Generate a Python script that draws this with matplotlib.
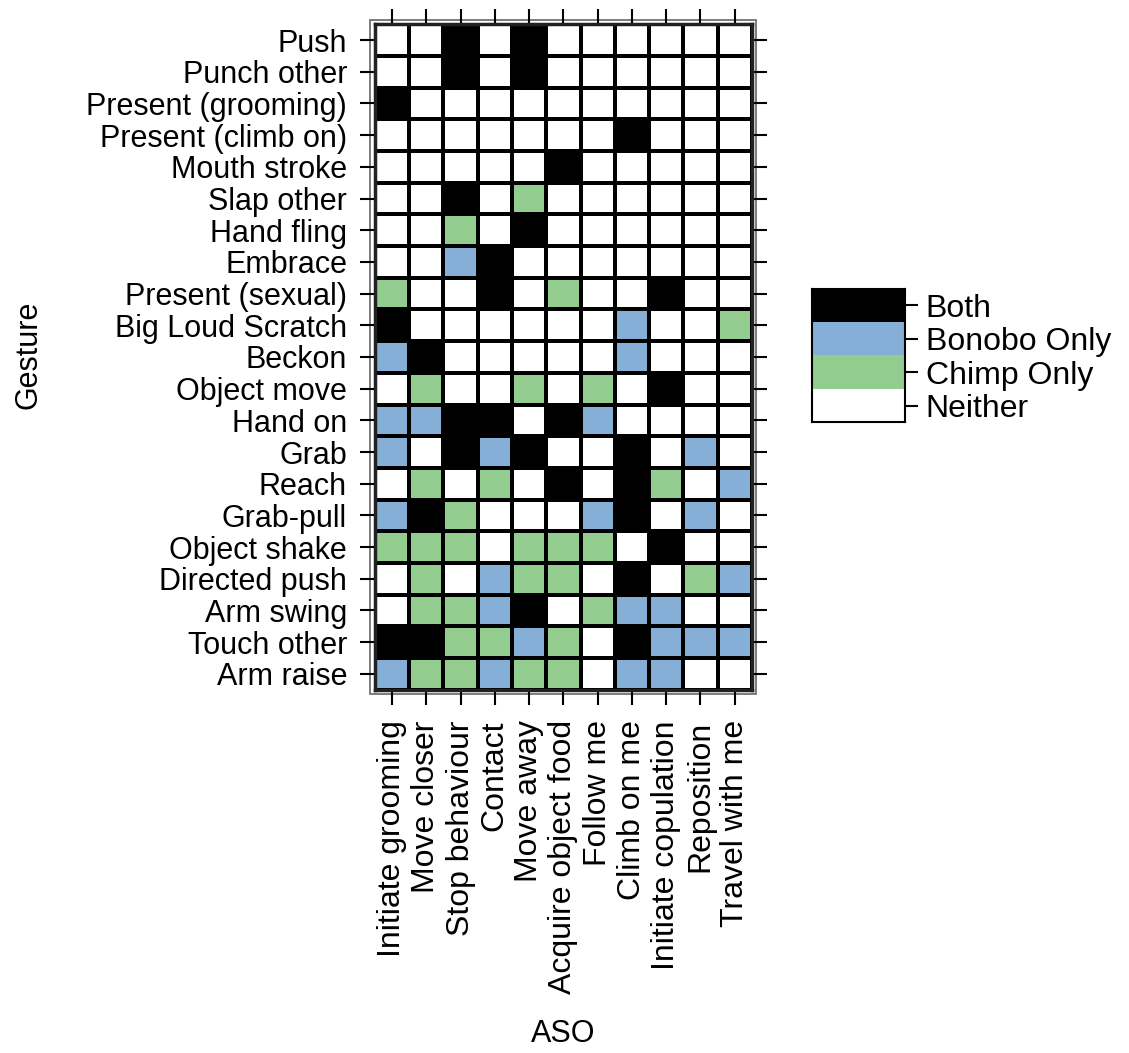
import numpy as np
import matplotlib
import matplotlib.pyplot as plt
from matplotlib.colors import ListedColormap, BoundaryNorm
from matplotlib.patches import Rectangle

plt.rcParams['font.family'] = ['Liberation Sans', 'DejaVu Sans']

aso = ['Initiate grooming', 'Move closer', 'Stop behaviour', 'Contact', 'Move away',
       'Acquire object food', 'Follow me', 'Climb on me', 'Initiate copulation',
       'Reposition', 'Travel with me']

gestures = ['Push', 'Punch other', 'Present (grooming)', 'Present (climb on)',
            'Mouth stroke', 'Slap other', 'Hand fling', 'Embrace', 'Present (sexual)',
            'Big Loud Scratch', 'Beckon', 'Object move', 'Hand on', 'Grab', 'Reach',
            'Grab-pull', 'Object shake', 'Directed push', 'Arm swing', 'Touch other',
            'Arm raise']

# B = Both, O = Bonobo Only, C = Chimp Only, N = Neither
usage = [
    'NNBNBNNNNNN',
    'NNBNBNNNNNN',
    'BNNNNNNNNNN',
    'NNNNNNNBNNN',
    'NNNNNBNNNNN',
    'NNBNCNNNNNN',
    'NNCNBNNNNNN',
    'NNOBNNNNNNN',
    'CNNBNCNNBNN',
    'BNNNNNNONNC',
    'OBNNNNNONNN',
    'NCNNCNCNBNN',
    'OOBBNBONNNN',
    'ONBOBNNBNON',
    'NCNCNBNBCNO',
    'OBCNNNOBNON',
    'CCCNCCCNBNN',
    'NCNOCCNBNCO',
    'NCCOBNCOONN',
    'BBCCOCNBOOO',
    'OCCOCCNOONN',
]

levels = ['Neither', 'Chimp Only', 'Bonobo Only', 'Both']
codes = {'N': 0, 'C': 1, 'O': 2, 'B': 3}
colors = ['#FFFFFF', '#92CD8F', '#85AFD6', '#000000']

mat = np.array([[codes[c] for c in row] for row in usage])
cmap = ListedColormap(colors)
norm = BoundaryNorm(np.arange(-0.5, 4.5, 1), cmap.N)

fig = plt.figure(figsize=(11.29, 10.53), dpi=100)
ax = fig.add_axes([0.332, 0.345, 0.334, 0.632])

n_rows, n_cols = mat.shape
ax.pcolormesh(np.arange(n_cols + 1), np.arange(n_rows + 1), mat[::-1],
              cmap=cmap, norm=norm, edgecolors='black', linewidth=2.6)
ax.set_xlim(0, n_cols)
ax.set_ylim(0, n_rows)

ax.set_xticks(np.arange(n_cols) + 0.5)
ax.set_xticklabels(aso, rotation=90, fontsize=23)
ax.set_yticks(np.arange(n_rows) + 0.5)
ax.set_yticklabels(gestures[::-1], fontsize=22)
ax.tick_params(axis='both', which='both', direction='out', length=11, width=1.5,
               top=True, right=True, labeltop=False, labelright=False)
ax.tick_params(axis='y', pad=9)
ax.tick_params(axis='x', pad=11)
for s in ax.spines.values():
    s.set_linewidth(2.5)
    s.set_color('#222222')
# thin outer line of the double frame
ax.add_patch(Rectangle((-0.012, -0.006), 1.024, 1.012, transform=ax.transAxes,
                       fill=False, edgecolor='#666666', linewidth=1.2, clip_on=False))

fig.text(0.025, 0.663, 'Gesture', rotation=90, fontsize=22, ha='center', va='center')
fig.text(0.4987, 0.018, 'ASO', fontsize=22, ha='center', va='center')

# legend colour key
cax = fig.add_axes([0.719, 0.599, 0.0824, 0.127])
cax.pcolormesh([0, 1], np.arange(5), np.arange(4).reshape(4, 1), cmap=cmap, norm=norm)
cax.set_xlim(0, 1)
cax.set_ylim(0, 4)
cax.set_xticks([])
cax.yaxis.tick_right()
cax.set_yticks(np.arange(4) + 0.5)
cax.set_yticklabels(levels, fontsize=23)
cax.tick_params(axis='y', direction='out', length=9, width=1.5, pad=6)
for s in cax.spines.values():
    s.set_linewidth(1.5)

fig.savefig('out.png', dpi=100)
